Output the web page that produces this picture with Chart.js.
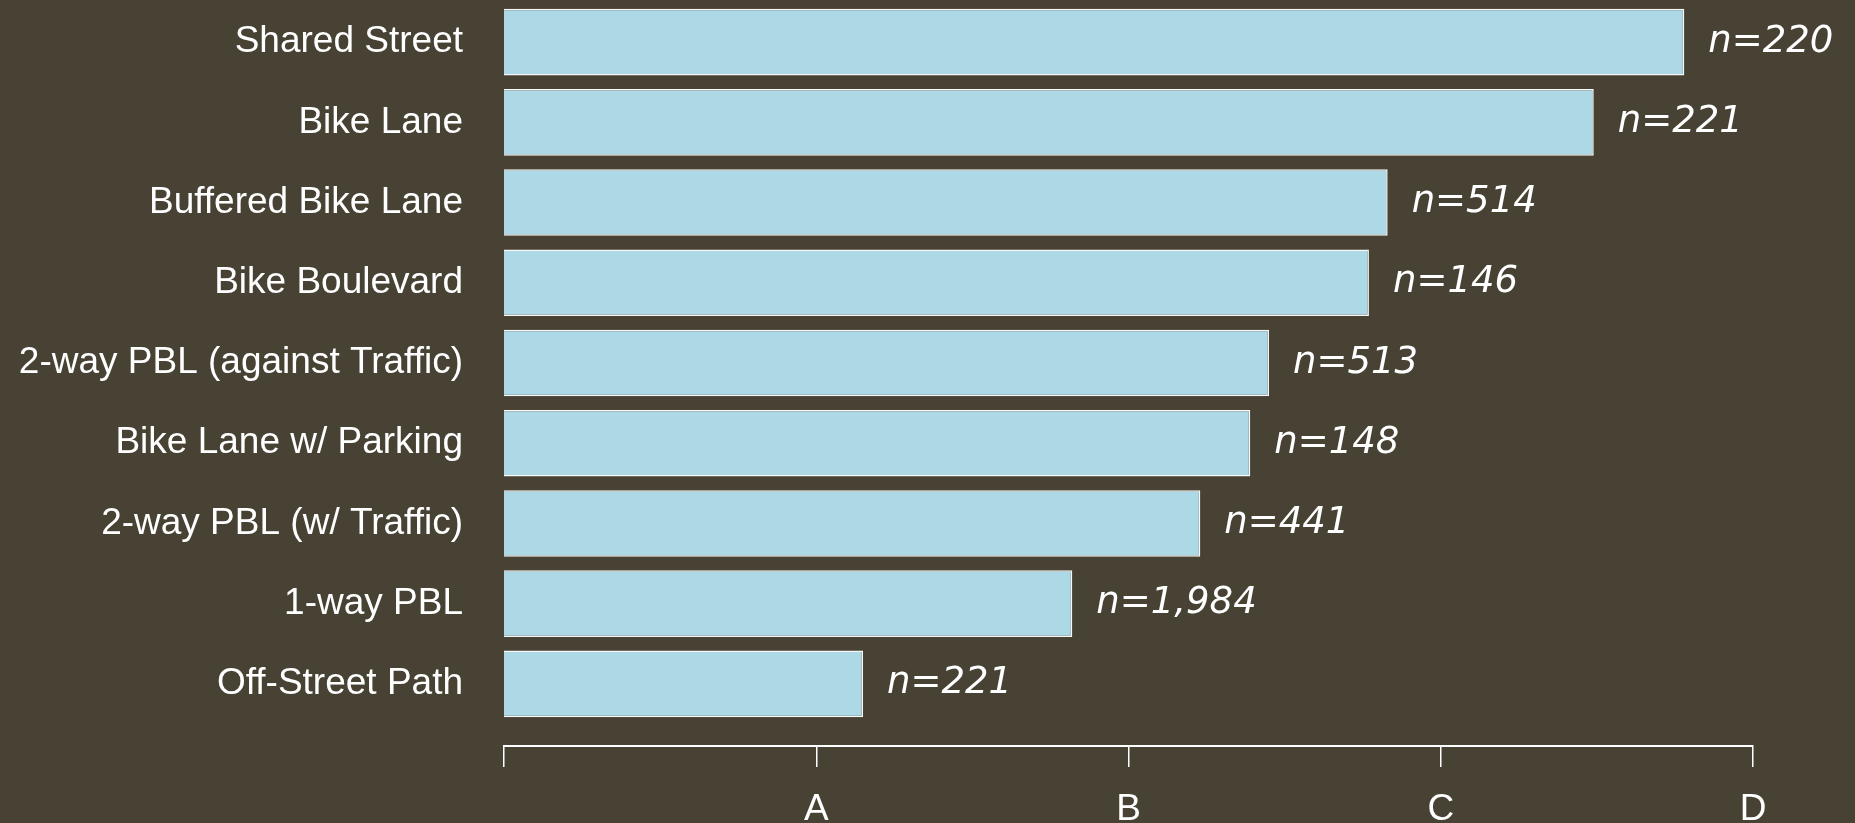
<html>
<head>
  <script src="https://cdn.jsdelivr.net/npm/chart.js"></script>
  <style>
    body { margin: 0; background: #474234; }
    #wrap { width: 1855px; height: 823px; }
  </style>
</head>
<body>
<div id="wrap"><canvas id="myChart"></canvas></div>
<script>
  // facility types, top to bottom
  const facilities = [
    'Shared Street',
    'Bike Lane',
    'Buffered Bike Lane',
    'Bike Boulevard',
    '2-way PBL (against Traffic)',
    'Bike Lane w/ Parking',
    '2-way PBL (w/ Traffic)',
    '1-way PBL',
    'Off-Street Path'
  ];
  // average grade, 0..4 on the A-D scale
  const scores = [3.78, 3.49, 2.83, 2.77, 2.45, 2.39, 2.23, 1.82, 1.15];
  const sampleSizes = ['n=220', 'n=221', 'n=514', 'n=146', 'n=513', 'n=148', 'n=441', 'n=1,984', 'n=221'];
  const grades = ['', 'A', 'B', 'C', 'D'];

  const white = '#ffffff';
  const labelFont = { family: '"Liberation Sans", Arial', size: 37 };

  // writes the sample size just past the end of each bar
  const sampleLabels = {
    id: 'sampleLabels',
    afterDatasetsDraw(chart) {
      const ctx = chart.ctx;
      const bars = chart.getDatasetMeta(0).data;
      ctx.save();
      ctx.font = 'italic 37px "DejaVu Sans"';
      ctx.fillStyle = white;
      ctx.textAlign = 'left';
      ctx.textBaseline = 'middle';
      bars.forEach((bar, i) => {
        ctx.fillText(sampleSizes[i], bar.x + 24, bar.y);
      });
      ctx.restore();
    }
  };

  const data = {
    labels: facilities,
    datasets: [{
      data: scores,
      backgroundColor: '#add8e6',
      borderColor: '#f8f8f8',
      borderWidth: 1.5,
      categoryPercentage: 1,
      barPercentage: 0.83
    }]
  };

  const config = {
    type: 'bar',
    data: data,
    options: {
      indexAxis: 'y',
      responsive: true,
      maintainAspectRatio: false,
      animation: false,
      layout: { padding: { top: 2, right: 102, left: 0, bottom: 0 } },
      plugins: {
        legend: { display: false },
        tooltip: { enabled: false }
      },
      scales: {
        y: {
          // fixed label column; labels sit inside their bands so no extra top/bottom room
          afterFit: (s) => {
            s.width = 504;
            s.paddingTop = 0;
            s.paddingBottom = 0;
          },
          grid: { display: false, drawTicks: false },
          border: { display: false },
          ticks: {
            autoSkip: false,
            padding: 41,
            color: white,
            font: labelFont
          }
        },
        // empty strip that keeps the grade axis a little below the last bar
        gap: {
          type: 'linear',
          axis: 'x',
          position: 'bottom',
          weight: 0,
          afterFit: (s) => { s.height = 22; },
          grid: { display: false },
          border: { display: false },
          ticks: { display: false }
        },
        x: {
          type: 'linear',
          position: 'bottom',
          weight: 1,
          min: 0,
          max: 4,
          afterFit: (s) => { s.height = 77; },
          grid: {
            drawOnChartArea: false,
            drawTicks: true,
            tickLength: 21,
            color: white,
            lineWidth: 1.5
          },
          border: { display: true, color: white, width: 2 },
          ticks: {
            stepSize: 1,
            padding: 21,
            color: white,
            font: labelFont,
            callback: (v) => grades[v] ?? ''
          }
        }
      }
    },
    plugins: [sampleLabels]
  };

  new Chart(document.getElementById('myChart'), config);
</script>
</body>
</html>
